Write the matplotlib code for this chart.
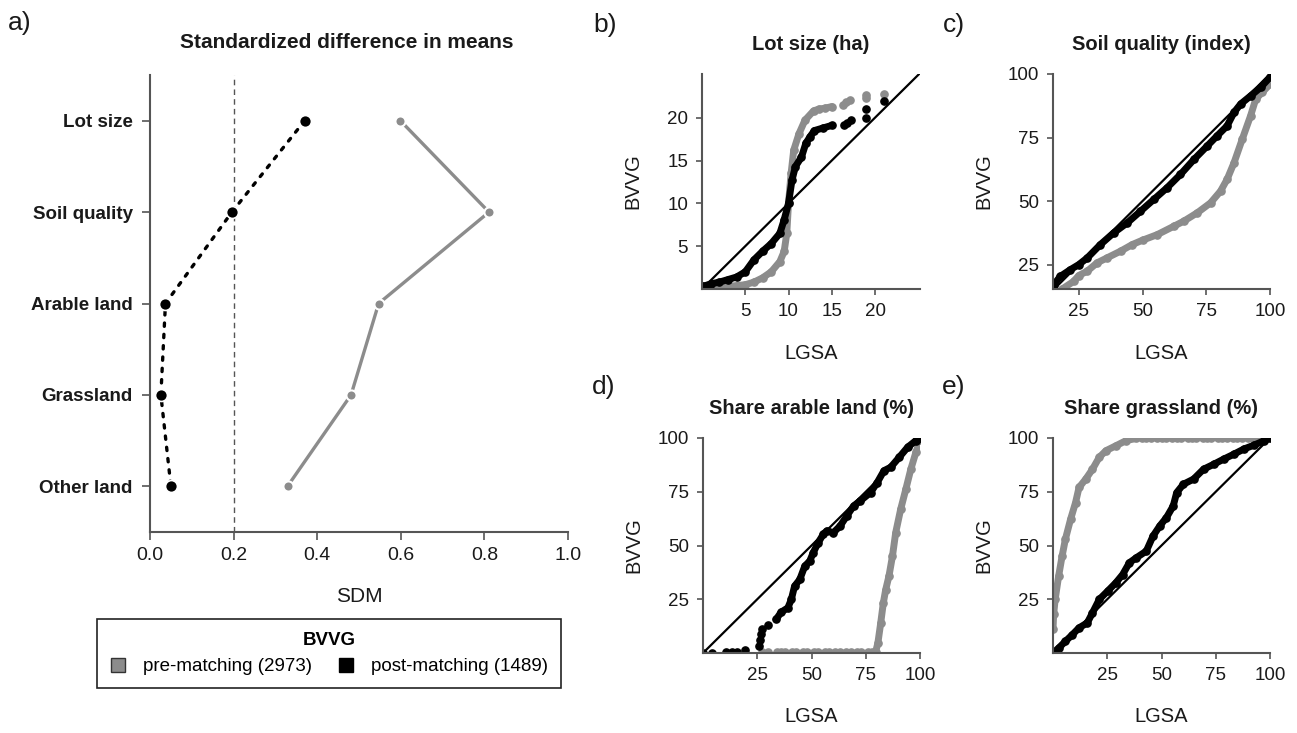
import numpy as np
import matplotlib
matplotlib.use("Agg")
import matplotlib.pyplot as plt
from matplotlib.lines import Line2D

plt.rcParams['font.family'] = ['Liberation Sans', 'DejaVu Sans']

# panel a: standardized difference in means
variables = ["Lot size", "Soil quality", "Arable land", "Grassland", "Other land"]
sdm_pre = [0.599, 0.811, 0.547, 0.481, 0.329]
sdm_post = [0.370, 0.196, 0.037, 0.026, 0.050]
sdm_ticks = [0.0, 0.2, 0.4, 0.6, 0.8, 1.0]

# panel b: lot size (ha), LGSA quantiles vs BVVG quantiles
lot_pre_x = [0.2, 2, 4, 5, 6, 7, 8, 9, 9.5, 9.8, 10.0, 10.3, 10.6, 11.2, 11.9, 12.9, 13.5, 14.2, 15.0]
lot_pre_y = [0.1, 0.2, 0.4, 0.5, 0.8, 1.3, 2.0, 3.2, 4.4, 6.5, 10.0, 13.5, 16.2, 18.1, 19.7, 20.8, 21.0, 21.1, 21.3]
lot_pre_tail_x = [16.3, 16.7, 17.1, 19.0, 19.0, 21.0]
lot_pre_tail_y = [21.5, 21.8, 22.1, 22.3, 22.6, 22.8]
lot_post_x = [0.1, 1, 2, 3, 4, 5, 6, 7, 8, 9, 9.5, 10.0, 10.4, 10.8, 11.5, 12.0, 12.5, 13.0, 14.0, 15.0]
lot_post_y = [0.3, 0.6, 0.8, 1.1, 1.4, 2.0, 3.4, 4.4, 5.3, 6.5, 8.1, 10.0, 12.7, 14.3, 15.4, 17.0, 17.8, 18.5, 18.8, 19.1]
lot_post_tail_x = [16.4, 16.8, 17.2, 19.0, 19.0, 21.0]
lot_post_tail_y = [19.2, 19.4, 19.7, 20.0, 21.0, 22.0]

# panel c: soil quality (index)
soil_pre_x = [18.5, 23, 25, 28.3, 32.2, 36, 41.4, 46, 50, 55.8, 62.3, 66.2, 71.5, 76.7, 80.6, 83.2, 85.9, 89.1, 92.4, 94.4, 97, 100]
soil_pre_y = [15.4, 18.4, 20.7, 22.4, 25.7, 27.6, 30.3, 32.9, 34.6, 36.8, 40.1, 42.1, 45.4, 49.3, 53.9, 58.6, 65.1, 74.3, 83.6, 90.1, 92.8, 96]
soil_post_x = [15.2, 17.8, 21.7, 25, 28.3, 33.5, 38.7, 44, 49.2, 54.5, 59.7, 64.9, 70.2, 75.4, 79.3, 83.2, 85.9, 88.5, 92.4, 96.3, 100]
soil_post_y = [17.1, 20.4, 23, 25, 27.6, 32.9, 37.5, 41.4, 46, 50.7, 55.3, 60.5, 66.4, 71.7, 75.7, 79.6, 84.9, 88.2, 91.4, 94.7, 98.7]

# panel d: share arable land (%)
arable_pre_x = [79.5, 80.6, 81.9, 83.1, 84.2, 85.7, 87.3, 88.8, 91.1, 93.5, 95.8, 98.1, 100]
arable_pre_y = [0.3, 4.7, 14, 23.3, 29.5, 35.8, 45, 56, 66.9, 76.3, 85.6, 93.3, 98.9]
arable_pre_tail_x = [27, 30, 34, 36, 38, 41, 43, 46, 48, 51, 53, 56, 58, 61, 63, 66, 68, 71, 73, 76, 78]
arable_pre_tail_y = [0.6, 0.6, 0.6, 0.6, 0.6, 0.6, 0.6, 0.6, 0.6, 0.6, 0.6, 0.6, 0.6, 0.6, 0.6, 0.6, 0.6, 0.6, 0.6, 0.6, 0.6]
arable_post_x = [33.7, 36, 39.1, 40.7, 42.2, 44.6, 46.9, 49.2, 50.8, 53.1, 55.4, 57, 60.1, 63.2, 66.3, 69.4, 72.5, 77.2, 80.3, 83.4, 86.5, 90.4, 94.3, 98.1, 100]
arable_post_y = [15.6, 19, 21, 24.9, 31.1, 34.2, 40.4, 42.8, 46.7, 51.3, 55.2, 56.8, 56, 59.1, 63.8, 68.4, 70.8, 74.6, 79.3, 84.8, 86.4, 91, 95.7, 98.8, 100]
arable_post_tail_x = [0, 4.2, 10.4, 13.5, 15.8, 19.3, 25.9, 26.2, 26.7, 27.2, 29.8]
arable_post_tail_y = [0, 0, 0.3, 0.3, 0.6, 1.6, 3.1, 6.2, 9.0, 11.0, 13.2]

# panel e: share grassland (%)
grass_pre_x = [0, 0.3, 1.0, 2.6, 4.2, 5.7, 8.1, 10.4, 12, 15.1, 18.2, 21.3, 24.4, 29, 33.7, 38.4]
grass_pre_y = [11, 18, 25, 35.8, 45.1, 52.9, 62.2, 70, 77, 80.9, 85.5, 91, 94.1, 96.4, 98.8, 99.8]
grass_pre_tail_x = [41, 43, 45, 48, 50, 52, 55, 57, 59, 62, 64, 66, 69, 71, 73, 76, 78, 80, 83, 85, 87, 90, 92, 94, 97, 99]
grass_pre_tail_y = [100, 100, 100, 100, 100, 100, 100, 100, 100, 100, 100, 100, 100, 100, 100, 100, 100, 100, 100, 100, 100, 100, 100, 100, 100, 100]
grass_post_x = [0, 2.6, 5.7, 8.9, 12, 15.8, 18.2, 21.3, 25.2, 29, 32.1, 35.2, 38.4, 43, 46.1, 49.2, 52.3, 55.4, 57, 60.1, 64.8, 69.4, 74.1, 78.7, 83.4, 88, 92.7, 97.4, 100]
grass_post_y = [0, 2.3, 5.4, 8.5, 11.7, 14, 18.7, 24.9, 28.8, 32.7, 36.5, 42, 44.3, 47.4, 54.4, 59.1, 63, 68.4, 74.6, 78.5, 80.9, 85.5, 87.8, 90.2, 92.5, 94.9, 96.7, 98.8, 100]

W, H = 1297, 733
GRAY = '#8c8c8c'
AXC = '#555555'
TXT = '#1a1a1a'


def box(l, t, r, b):
    return [l / W, 1 - b / H, (r - l) / W, (b - t) / H]


def ftext(x, y, s, **kw):
    fig.text(x / W, 1 - y / H, s, ha='center', va='center', color=TXT, **kw)


fig = plt.figure(figsize=(W / 100, H / 100), dpi=100)

# ---- panel a
ax = fig.add_axes(box(150, 75, 568, 532))
ypos = np.arange(len(variables), 0, -1)
ax.axvline(0.2, color='#555555', lw=1, ls=(0, (4, 3)))
ax.plot(sdm_pre, ypos, color=GRAY, lw=2.4, marker='o', ms=7.3,
        mfc=GRAY, mec='white', mew=1.5)
ax.plot(sdm_post, ypos, color='black', lw=2.4, ls=(0, (1.0, 2.4)),
        dash_capstyle='round', marker='o', ms=8.6, mfc='black', mec='white', mew=1.2)
ax.set_xlim(0, 1)
ax.set_ylim(0.5, 5.5)
ax.set_xticks(sdm_ticks)
ax.set_xticklabels([f"{t:.1f}" for t in sdm_ticks])
ax.set_yticks(ypos)
ax.set_yticklabels(variables, fontweight='bold', fontsize=13.5)
for s in ['top', 'right']:
    ax.spines[s].set_visible(False)
for s in ['left', 'bottom']:
    ax.spines[s].set_color(AXC)
    ax.spines[s].set_linewidth(1.5)
ax.tick_params(axis='x', length=6, width=1.2, color=AXC, labelsize=14, pad=5, labelcolor=TXT)
ax.tick_params(axis='y', length=6, width=1.2, color=AXC, pad=6.5, labelcolor=TXT)

ftext(20, 23, "a)", fontsize=19)
ftext(347, 43, "Standardized difference in means", fontsize=15, fontweight='bold')
ftext(359, 597, "SDM", fontsize=15)

handles = [Line2D([], [], ls='none', marker='s', ms=10.5, mfc=GRAY, mec='#333333', mew=1),
           Line2D([], [], ls='none', marker='s', ms=10.5, mfc='black', mec='black', mew=1)]
leg = fig.legend(handles, ["pre-matching (2973)", "post-matching (1489)"], ncol=2,
                 title="BVVG", loc='center', bbox_to_anchor=(329 / W, 1 - 653.5 / H),
                 fontsize=13.5, title_fontproperties={'weight': 'bold', 'size': 13.5},
                 frameon=True, fancybox=False, edgecolor='#222222', framealpha=1,
                 handlelength=0.8, handletextpad=0.95, columnspacing=1.4, borderpad=0.7)
leg.get_frame().set_linewidth(1.2)


# ---- QQ panels
def qq(rect, pre, post, pre_tail, post_tail, lims, ticks, title, letter, tl):
    a = fig.add_axes(box(*rect))
    a.plot(pre[0], pre[1], color=GRAY, lw=5, marker='o', ms=5.2,
           solid_capstyle='round', solid_joinstyle='round')
    if pre_tail:
        a.plot(pre_tail[0], pre_tail[1], ls='none', color=GRAY, marker='o', ms=5.2)
    a.plot(post[0], post[1], color='black', lw=5, marker='o', ms=5.2,
           solid_capstyle='round', solid_joinstyle='round')
    if post_tail:
        a.plot(post_tail[0], post_tail[1], ls='none', color='black', marker='o', ms=5.2)
    a.axline((0, 0), slope=1, color='black', lw=1.6)
    a.set_xlim(lims[0])
    a.set_ylim(lims[1])
    a.set_xticks(ticks)
    a.set_yticks(ticks)
    for s in ['top', 'right']:
        a.spines[s].set_visible(False)
    for s in ['left', 'bottom']:
        a.spines[s].set_color(AXC)
        a.spines[s].set_linewidth(1.5)
    a.tick_params(length=4, width=1.2, color=AXC, labelsize=13.5, pad=6, labelcolor=TXT)
    l, t, r, b = rect
    cx = (l + r) / 2
    ftext(tl[0], tl[1], letter, fontsize=19)
    ftext(cx, t - 30, title, fontsize=14.5, fontweight='bold')
    ftext(cx, b + 64, "LGSA", fontsize=14.5)
    ftext(l - 69, (t + b) / 2, "BVVG", fontsize=14.5, rotation=90)
    return a


qq((702, 74, 920, 289), (lot_pre_x, lot_pre_y), (lot_post_x, lot_post_y),
   (lot_pre_tail_x, lot_pre_tail_y), (lot_post_tail_x, lot_post_tail_y),
   ((0, 25.2), (0, 25.1)), [5, 10, 15, 20], "Lot size (ha)", "b)", (605, 25))
qq((1053, 74, 1270, 289), (soil_pre_x, soil_pre_y), (soil_post_x, soil_post_y),
   None, None, ((14.9, 100), (15.4, 100)), [25, 50, 75, 100],
   "Soil quality (index)", "c)", (954, 25))
qq((703, 438, 920, 653), (arable_pre_x, arable_pre_y), (arable_post_x, arable_post_y),
   (arable_pre_tail_x, arable_pre_tail_y), (arable_post_tail_x, arable_post_tail_y),
   ((0, 100), (0, 100)), [25, 50, 75, 100], "Share arable land (%)", "d)", (604, 387))
qq((1053, 438, 1270, 653), (grass_pre_x, grass_pre_y), (grass_post_x, grass_post_y),
   (grass_pre_tail_x, grass_pre_tail_y), None,
   ((0, 100), (0, 100)), [25, 50, 75, 100], "Share grassland (%)", "e)", (954, 387))

fig.savefig("out.png", dpi=100)
